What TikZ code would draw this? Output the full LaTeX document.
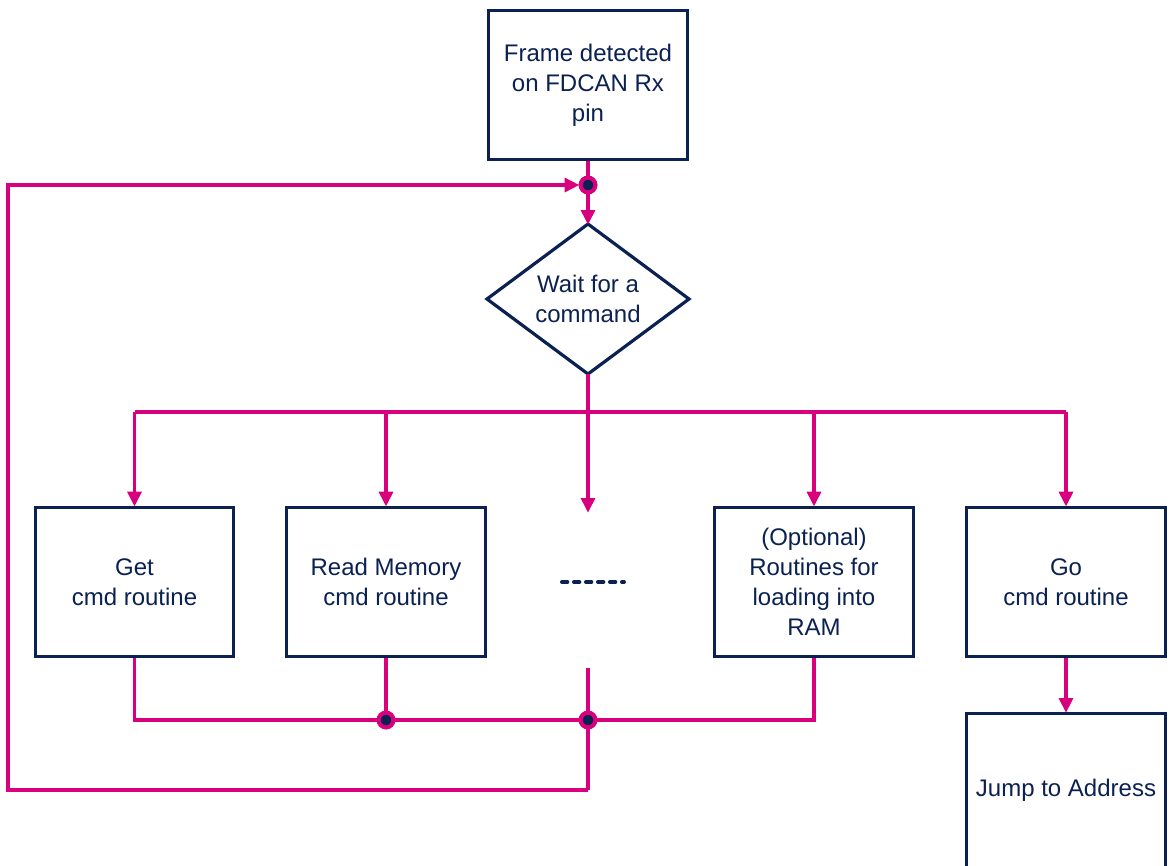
\documentclass[tikz,border=0pt]{standalone}
\usepackage{fontspec}
\setmainfont{Liberation Sans}
\usetikzlibrary{arrows.meta,calc}
\definecolor{navy}{HTML}{0B2151}
\definecolor{pink}{HTML}{D9007E}
\tikzset{
  box/.style={draw=navy, line width=2.4pt, fill=white, minimum width=149pt, minimum height=112pt,
    text=navy, align=center, font=\fontsize{18}{22.5}\selectfont, inner sep=2pt},
  dia/.style={draw=navy, line width=2.4pt, fill=white},
  wire/.style={draw=pink, line width=2.3pt},
  arr/.style={wire, -{Triangle[length=11pt,width=10.5pt]}, shorten >=-0.5pt},
  jdot/.style={circle, fill=navy, draw=pink, line width=3pt, minimum size=11pt, inner sep=0pt},
}
\begin{document}
\begin{tikzpicture}[x=0.75pt,y=-0.75pt]
\clip (0,0) rectangle (1171,865);
\fill[white] (0,0) rectangle (1171,865);
% nodes
\node[box] (frame) at (588,85) {Frame detected\\on FDCAN Rx\\pin};
\node[jdot] (topdot) at (588,185) {};
\draw[dia] (588,224) -- (689,299) -- (588,374) -- (487,299) -- cycle;
\node[text=navy, align=center, font=\fontsize{18}{22.5}\selectfont] (wait) at (588,299) {Wait for a\\command};
\coordinate (diaTop) at (588,224);
\coordinate (diaBot) at (588,374);
\node[box] (get) at (134.5,582) {Get\\cmd routine};
\node[box] (read) at (386,582) {Read Memory\\cmd routine};
\node[box] (opt) at (814,582) {(Optional)\\Routines for\\loading into\\RAM};
\node[box] (go) at (1066,582) {Go\\cmd routine};
\node[box, minimum height=170pt] (jump) at (1066,827) {};
\node[text=navy, font=\fontsize{18}{22.5}\selectfont] (jumptext) at (1066,790) {Jump to Address};
\coordinate (bus) at (588,412);
\coordinate (busL) at (134.5,412);
\coordinate (busR) at (1066,412);
\coordinate (midtip) at (588,512);
\coordinate (midstart) at (588,668);
\coordinate (dotsL) at (562,582);
\coordinate (dotsR) at (624,582);
\node[jdot] (mdot1) at (386,720) {};
\node[jdot] (mdot2) at (588,720) {};
\coordinate (loopBR) at (588,790);
\coordinate (loopBL) at (8,790);
\coordinate (loopTL) at (8,185);
% connectors
\draw[wire] (frame.south) -- (topdot);
\draw[arr] (topdot) -- (diaTop);
\draw[arr] (loopBR) -- (loopBL) -- (loopTL) -- (topdot.west);
\draw[wire] (diaBot) -- (bus);
\draw[wire] (busL) -- (busR);
\draw[arr] (busL) -- (get.north);
\draw[arr] (read.north |- bus) -- (read.north);
\draw[arr] (bus) -- (midtip);
\draw[arr] (opt.north |- bus) -- (opt.north);
\draw[arr] (busR) -- (go.north);
\draw[navy, line width=3pt, line cap=round, dash pattern=on 4pt off 5pt] (dotsL) -- (dotsR);
\draw[wire] (get.south) |- (mdot1) -- (mdot2) -| (opt.south);
\draw[wire] (read.south) -- (mdot1);
\draw[wire] (midstart) -- (mdot2) -- (loopBR);
\draw[arr] (go.south) -- (jump.north);
\node[jdot] at (topdot) {};
\node[jdot] at (mdot1) {};
\node[jdot] at (mdot2) {};
\end{tikzpicture}
\end{document}
